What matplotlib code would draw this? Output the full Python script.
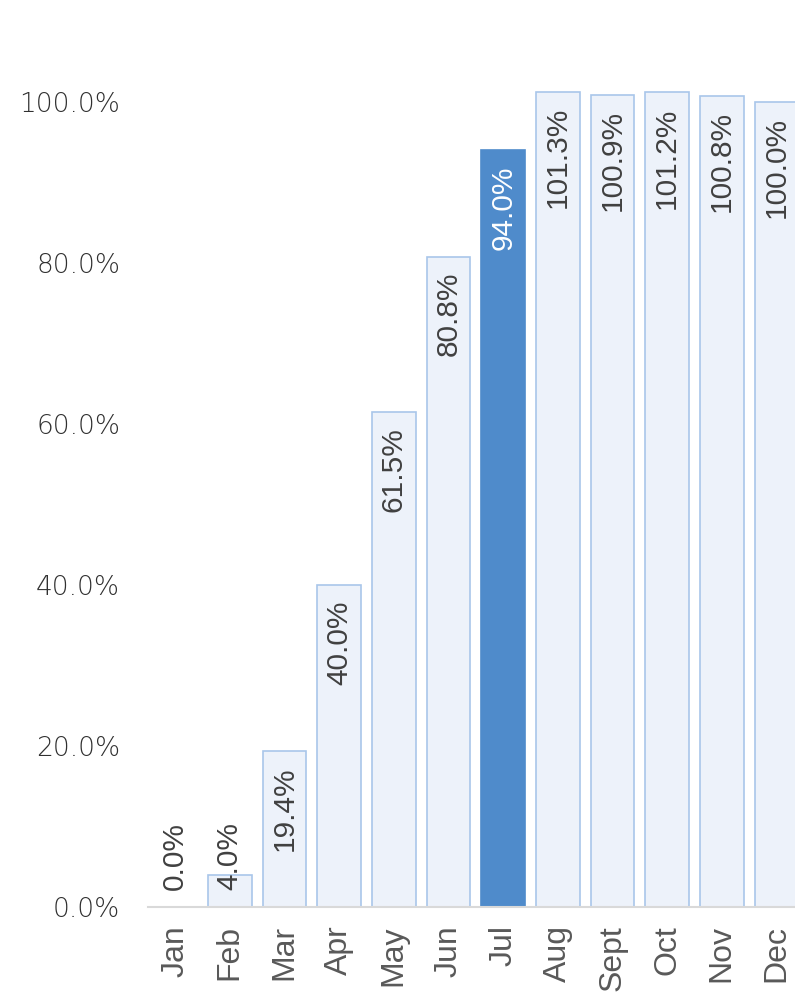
import numpy as np
import matplotlib.pyplot as plt

months = ["Jan", "Feb", "Mar", "Apr", "May", "Jun", "Jul", "Aug", "Sept", "Oct", "Nov", "Dec"]
values = [0.0, 4.0, 19.4, 40.0, 61.5, 80.8, 94.0, 101.3, 100.9, 101.2, 100.8, 100.0]
highlight = "Jul"

fill = "#EDF2FA"
edge = "#A9C6EA"
dark = "#4F8BCB"
grey = "#595959"

fig = plt.figure(figsize=(7.95, 9.96), dpi=100)
ax = fig.add_axes([0.186, 0.0894, 0.825, 0.889])

x = np.arange(len(months))
colors = [dark if m == highlight else fill for m in months]
edges = [dark if m == highlight else edge for m in months]
ax.bar(x, values, width=0.8, color=colors, edgecolor=edges, linewidth=1.2)

for xi, v, m in zip(x, values, months):
    col = "white" if m == highlight else "#404040"
    if v < 10:
        ax.text(xi, 2.1, f"{v:.1f}%", rotation=90, ha="center", va="bottom",
                fontsize=21.5, color=col, family="Liberation Sans")
    else:
        ax.text(xi, v - 1.9, f"{v:.1f}%", rotation=90, ha="center", va="top",
                fontsize=21.5, color=col, family="Liberation Sans")

ax.set_xlim(-0.5, 11.5)
ax.set_ylim(0, 110)
ax.set_yticks(np.arange(0, 101, 20))
ax.set_yticklabels([f"{t:.1f}%" for t in np.arange(0, 101, 20)], family="DejaVu Sans",
                   fontsize=19, color="#303030", fontweight="light")
ax.set_xticks(x)
ax.set_xticklabels(months, rotation=90, family="Liberation Sans", fontsize=23, color=grey)
ax.tick_params(axis="y", length=0, pad=20)
ax.tick_params(axis="x", length=0, pad=13)

for s in ["top", "right", "left"]:
    ax.spines[s].set_visible(False)
ax.spines["bottom"].set_color("#D9D9D9")
ax.spines["bottom"].set_linewidth(1.5)

fig.savefig("out.png", dpi=100)
